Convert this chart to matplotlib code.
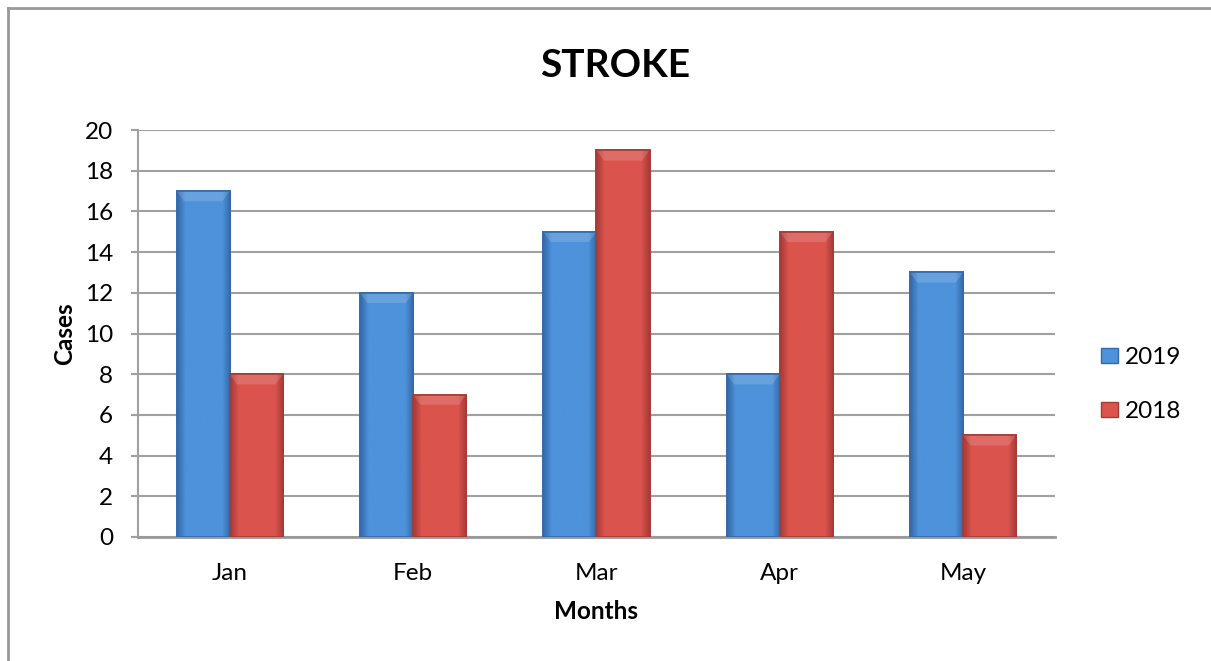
import numpy as np
import matplotlib
matplotlib.use('Agg')
from matplotlib import pyplot as plt
from matplotlib.lines import Line2D
from matplotlib.patches import Patch

months = ['Jan', 'Feb', 'Mar', 'Apr', 'May']
cases_2019 = [17, 12, 15, 8, 13]
cases_2018 = [8, 7, 19, 15, 5]
yticks = [0, 2, 4, 6, 8, 10, 12, 14, 16, 18, 20]

blue = '#4D92DA'
blue_dark = '#3469AA'
red = '#DA544D'
red_dark = '#A63B36'

plt.rcParams['font.family'] = ['Lato', 'DejaVu Sans']

fig = plt.figure(figsize=(12.11, 6.61), dpi=100)
ax = fig.add_axes([0.114, 0.1876, 0.757, 0.6157])

# outer chart frame
fig.add_artist(Line2D([8/1211, 8/1211], [0, 1 - 8/661], color='#999999', lw=2, transform=fig.transFigure))
fig.add_artist(Line2D([8/1211, 1], [1 - 8/661, 1 - 8/661], color='#999999', lw=2, transform=fig.transFigure))

x = np.arange(len(months))
w = 0.29


def shaded_bars(xs, vals, base, dark):
    bars = ax.bar(xs, vals, w, color=base, edgecolor=dark, linewidth=1.2, zorder=3)
    # horizontal shading: darker at the sides
    grad = np.concatenate([np.linspace(0.55, 1, 8), np.ones(30), np.linspace(1, 0.55, 8)])
    cmap = matplotlib.colors.LinearSegmentedColormap.from_list('c', [dark, base])
    for b in bars:
        x0, y0 = b.get_x(), b.get_y()
        im = ax.imshow(grad[np.newaxis, :], cmap=cmap, vmin=0.55, vmax=1, aspect='auto',
                       extent=[x0, x0 + b.get_width(), y0, y0 + b.get_height()], zorder=3.5)
        im.set_clip_path(b)
        # lighter bevel on top
        h = 0.5
        ax.fill([x0, x0 + b.get_width(), x0 + b.get_width() - 0.04, x0 + 0.04],
                [b.get_height(), b.get_height(), b.get_height() - h, b.get_height() - h],
                color='white', alpha=0.15, lw=0, zorder=4)
        ax.bar(x0 + b.get_width() / 2, b.get_height(), w, fill=False, edgecolor=dark, linewidth=1.2, zorder=5)
    return bars


shaded_bars(x - w / 2, cases_2019, blue, blue_dark)
shaded_bars(x + w / 2, cases_2018, red, red_dark)

ax.set_xlim(-0.5, len(months) - 0.5)
ax.set_ylim(0, 20)
ax.set_yticks(yticks)
ax.set_xticks(x)
ax.set_xticklabels(months)
ax.tick_params(axis='y', length=5, width=1.5, color='#A0A0A0', labelsize=17.5, pad=13)
ax.tick_params(axis='x', length=0, labelsize=17.5, pad=19)
ax.yaxis.grid(True, color='#A0A0A0', lw=1.5, zorder=0)
ax.set_axisbelow(True)
for s in ['top', 'right']:
    ax.spines[s].set_visible(False)
ax.spines['left'].set_color('#A0A0A0')
ax.spines['left'].set_linewidth(1.5)
ax.spines['bottom'].set_color('#999999')
ax.spines['bottom'].set_linewidth(2)

ax.set_title('STROKE', fontsize=28, fontweight='bold', pad=38, x=0.52)
ax.set_ylabel('Cases', fontsize=17.5, fontweight='bold', labelpad=6)
ax.set_xlabel('Months', fontsize=17.5, fontweight='bold', labelpad=11)

handles = [Patch(facecolor=blue, edgecolor=blue_dark), Patch(facecolor=red, edgecolor=red_dark)]
fig.legend(handles, ['2019', '2018'], loc='center left', bbox_to_anchor=(0.8915, 0.418),
           frameon=False, fontsize=17.5, handlelength=0.67, handleheight=0.6,
           handletextpad=0.3, labelspacing=1.35)

fig.savefig('out.png', dpi=100)
